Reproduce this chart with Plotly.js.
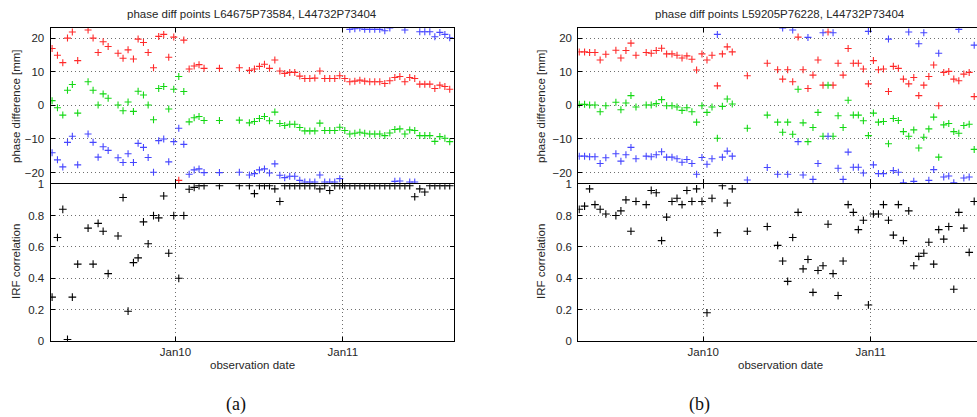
<!DOCTYPE html>
<html>
<head>
<meta charset="utf-8">
<script src="https://cdn.plot.ly/plotly-3.0.1.min.js"></script>
<style>
  html, body { margin: 0; padding: 0; overflow: hidden; background: #fff; }
  #chart { width: 990px; height: 417px; }
</style>
</head>
<body>
<div id="chart"></div>
<script>
// Observation times as decimal day of January
const tickDays = [10, 11];
const tickText = ['Jan10', 'Jan11'];
const phaseTicks = [-20, -10, 0, 10, 20];

// ---- point pair L64675P73584, L44732P73404 ----
const dayA = [9.263, 9.295, 9.327, 9.355, 9.384, 9.416, 9.478, 9.508, 9.538, 9.568, 9.598,
  9.657, 9.687, 9.717, 9.749, 9.777, 9.809, 9.837, 9.869, 9.900, 9.930, 9.960, 9.990,
  10.020, 10.050, 10.082, 10.112, 10.141, 10.171, 10.263, 10.382, 10.442, 10.472, 10.502,
  10.532, 10.562, 10.594, 10.624, 10.653, 10.683, 10.713, 10.743, 10.773, 10.803, 10.833,
  10.863, 10.892, 10.922, 10.952, 10.982, 11.012, 11.042, 11.072, 11.102, 11.131, 11.161,
  11.191, 11.221, 11.251, 11.281, 11.311, 11.341, 11.371, 11.400, 11.430, 11.460, 11.490,
  11.520, 11.550, 11.580, 11.610, 11.639];
const redA = [16.9, 14.9, 12.7, 20.0, 21.8, 13.3, 22.4, 20.0, 15.7, 18.9, 17.5,
  15.5, 14.0, 16.5, 13.8, 19.7, 18.7, 15.7, 11.2, 20.5, 21.1, 14.3, 20.3,
  -22.3, 19.4, 10.8, 11.7, 12.1, 11.0, 11.0, 11.2, 10.4, 10.8, 11.6,
  12.2, 11.0, 13.5, 10.2, 9.5, 9.8, 9.8, 8.7, 8.0, 8.0, 8.1,
  10.2, 8.0, 8.0, 8.0, 8.8, 8.0, 7.0, 7.2, 7.5, 7.2, 7.0,
  7.0, 7.0, 6.5, 7.3, 8.3, 8.6, 7.0, 8.3, 8.0, 6.3, 6.3,
  6.3, 5.0, 6.0, 5.6, 4.8];
const greenA = [1.4, -0.7, -2.9, 4.5, 6.2, -2.3, 7.0, 4.5, 0.1, 3.4, 2.1,
  0.1, -1.6, 1.0, -1.8, 4.2, 3.1, 0.1, -4.3, 5.0, 5.6, -1.1, 4.8,
  8.6, 4.1, -4.9, -3.7, -3.3, -4.5, -4.5, -4.4, -5.2, -4.8, -3.9,
  -3.3, -4.6, -2.0, -5.4, -6.0, -5.6, -5.6, -6.6, -7.6, -7.6, -7.6,
  -5.3, -7.5, -7.5, -7.5, -6.5, -7.5, -8.5, -8.3, -8.0, -8.3, -8.5,
  -8.5, -8.5, -9.0, -8.2, -7.2, -7.0, -8.5, -7.3, -7.5, -9.0, -9.0,
  -9.0, -10.7, -9.3, -9.8, -10.8];
const blueA = [-14.1, -16.2, -18.3, -11.0, -9.2, -17.7, -8.5, -11.0, -15.4, -12.3, -13.4,
  -15.6, -17.0, -14.4, -17.0, -11.3, -12.5, -15.5, -19.9, -10.5, -10.0, -16.8, -10.8,
  -6.8, -11.6, -20.5, -19.2, -18.9, -20.0, -20.0, -19.9, -20.7, -20.3, -19.2,
  -18.9, -20.1, -17.4, -20.8, -21.5, -21.1, -21.1, -22.3, -22.8, -22.8, -22.8,
  -20.7, -22.8, -22.8, -22.8, -21.8, null, 22.6, 22.8, 23.0, 22.6, 22.6,
  22.6, 22.6, 22.2, 23.0, -22.6, -22.5, 22.4, -22.8, -22.8, 21.9, 21.9,
  21.9, 20.4, 21.7, 21.1, 20.1];
const corrA = [0.28, 0.66, 0.84, 0.01, 0.28, 0.49, 0.72, 0.49, 0.75, 0.70, 0.43,
  0.67, 0.915, 0.19, 0.50, 0.53, 0.76, 0.62, 0.80, 0.785, 0.925, 0.56, 0.80,
  0.40, 0.80, 0.968, 0.98, 0.99, 0.99, 0.99, 0.99, 0.99, 0.94, 0.99,
  0.99, 0.99, 0.97, 0.89, 0.99, 0.99, 0.99, 0.99, 0.99, 0.99, 0.99,
  0.97, 0.99, 0.96, 0.99, 0.99, 0.99, 0.99, 0.99, 0.99, 0.99, 0.99,
  0.99, 0.99, 0.99, 0.99, 0.99, 0.99, 0.99, 0.99, 0.92, 0.97, 0.95,
  0.99, 0.99, 0.99, 0.99, 0.99];

// ---- point pair L59205P76228, L44732P73404 ----
const dayB = [9.259, 9.291, 9.321, 9.353, 9.384, 9.418, 9.478, 9.508, 9.538, 9.568, 9.598,
  9.659, 9.689, 9.719, 9.751, 9.781, 9.813, 9.843, 9.873, 9.902, 9.932, 9.960, 9.992,
  10.022, 10.052, 10.084, 10.114, 10.143, 10.173, 10.263, 10.382, 10.444, 10.474, 10.504,
  10.534, 10.566, 10.596, 10.625, 10.655, 10.685, 10.715, 10.745, 10.775, 10.805, 10.835,
  10.865, 10.896, 10.926, 10.956, 10.986, 11.016, 11.046, 11.076, 11.106, 11.135, 11.165,
  11.195, 11.227, 11.257, 11.287, 11.317, 11.347, 11.376, 11.406, 11.436, 11.466, 11.496,
  11.526, 11.556, 11.588, 11.618];
const redB = [15.9, 15.9, 15.7, 15.7, 13.5, 15.2, 16.4, 14.1, 16.3, 18.5, 14.9,
  15.7, 15.5, 16.3, 17.0, 15.3, 15.3, 14.9, 14.1, 14.7, 13.7, 10.5, 15.3,
  13.5, 14.9, 5.8, 15.3, 17.4, 15.9, 8.8, 12.5, 10.6, 7.8, 10.6,
  7.0, 20.3, 10.6, 5.0, 9.0, 13.5, 6.0, 21.8, 6.0, 12.5, 9.0,
  16.9, 12.5, 12.5, 10.8, 6.4, 13.3, 10.6, 10.8, 4.1, 11.6, 11.0,
  7.8, 6.4, 8.3, 2.9, 6.0, 8.6, 12.0, -0.1, 9.8, 10.1, 7.8,
  7.3, 9.3, 9.8, 2.6];
const greenB = [0.3, 0.3, 0.1, 0.1, -1.9, -0.1, 0.9, -1.3, 0.7, 2.9, -0.5,
  0.1, 0.1, 0.5, 1.7, -0.1, -0.1, -0.5, -1.5, -0.7, -1.9, -5.0, -0.1,
  -2.1, -0.5, -9.8, -0.3, 1.9, 0.4, -6.8, -2.9, -5.0, -8.0, -5.0,
  -8.6, 4.8, -5.2, -10.8, -6.6, -2.1, -9.2, 6.0, -9.2, -3.1, -6.6,
  1.5, -2.9, -2.9, -4.6, -9.0, -2.3, -5.0, -4.8, -11.4, -3.9, -4.5,
  -7.8, -9.2, -7.3, -12.7, -9.5, -7.0, -3.5, -15.4, -5.8, -5.4, -7.8,
  -8.3, -6.0, -5.6, -13.1];
const blueB = [-15.1, -15.1, -15.3, -15.3, -17.3, -15.6, -14.4, -16.6, -14.7, -12.5, -15.9,
  -15.1, -15.3, -14.7, -13.8, -15.4, -15.4, -15.9, -16.9, -16.1, -17.3, -20.5, -15.5,
  -17.5, -15.9, 21.1, -15.4, -13.6, -15.1, -22.2, -18.5, -20.5, 23.0, -20.5,
  22.4, -10.8, -20.7, 20.2, -22.0, -17.3, 21.6, -9.2, 21.6, -18.7, -22.0,
  -13.9, -18.4, -18.4, -20.1, 22.0, -17.7, -20.3, -20.3, 19.7, -19.4, -19.9,
  -23.0, 21.8, -22.6, 18.3, 21.6, -22.3, -19.1, 15.5, -21.3, -21.0, -23.0,
  22.6, -21.6, -21.3, 17.9];
const corrB = [0.84, 0.86, 0.97, 0.87, 0.84, 0.81, 0.80, 0.83, 0.90, 0.70, 0.89,
  0.87, 0.96, 0.945, 0.64, 0.79, 0.89, 0.91, 0.87, 0.96, 0.89, 0.97, 0.89,
  0.18, 0.91, 0.69, 0.99, 0.88, 0.97, 0.70, 0.73, 0.61, 0.51, 0.38,
  0.66, 0.82, 0.46, 0.52, 0.31, 0.45, 0.48, 0.745, 0.43, 0.29, 0.51,
  0.87, 0.82, 0.71, 0.77, 0.23, 0.81, 0.81, 0.87, 0.77, 0.675, 0.87,
  0.64, 0.83, 0.48, 0.54, 0.56, 0.63, 0.49, 0.71, 0.65, 0.73, 0.33,
  0.82, 0.72, 0.565, 0.89];

const titleA = 'phase diff points L64675P73584, L44732P73404';
const titleB = 'phase diff points L59205P76228, L44732P73404';

// ---- layout helpers (figure is laid out in pixels) ----
const W = 990, H = 417;
const fx = p => p / W;
const fy = p => 1 - p / H;

const FONT = 'Liberation Sans, Arial, Helvetica, sans-serif';
const TXT = '#262626';
const COLORS = { red: '#ff2a2a', green: '#14d814', blue: '#4646ff', black: '#000000' };

function crosses(x, y, color, xa, ya, size) {
  return {
    type: 'scatter', mode: 'markers', x: x, y: y, xaxis: xa, yaxis: ya,
    marker: { symbol: 'cross-thin', size: size, line: { color: color, width: 1.1 } },
    hoverinfo: 'skip', showlegend: false
  };
}

const traces = [
  crosses(dayA, redA, COLORS.red, 'x', 'y', 5),
  crosses(dayA, greenA, COLORS.green, 'x', 'y', 5),
  crosses(dayA, blueA, COLORS.blue, 'x', 'y', 5),
  crosses(dayA, corrA, COLORS.black, 'x2', 'y2', 5.5),
  crosses(dayB, redB, COLORS.red, 'x3', 'y3', 5),
  crosses(dayB, greenB, COLORS.green, 'x3', 'y3', 5),
  crosses(dayB, blueB, COLORS.blue, 'x3', 'y3', 5),
  crosses(dayB, corrB, COLORS.black, 'x4', 'y4', 5.5)
];

const xRange = [9.2535, 11.6645];
const gridStyle = { showgrid: true, gridcolor: '#6e6e6e', griddash: '1px,3px', gridwidth: 1 };
const lineStyle = { showline: true, linecolor: '#000', linewidth: 1, mirror: 'ticks',
  ticks: 'inside', ticklen: 4, tickwidth: 1, tickcolor: '#000', zeroline: false,
  tickfont: { family: FONT, size: 11.5, color: TXT } };

function xAxis(left, right, anchor, labels) {
  return Object.assign({}, lineStyle, gridStyle, {
    domain: [fx(left), fx(right)], anchor: anchor, range: xRange,
    tickmode: 'array', tickvals: tickDays, ticktext: tickText, showticklabels: labels
  });
}
function yPhase(anchor) {
  return Object.assign({}, lineStyle, gridStyle, {
    domain: [fy(183.2), fy(27.5)], anchor: anchor, range: [-23.15, 23.15],
    tickmode: 'array', tickvals: phaseTicks, ticklabelstandoff: 3
  });
}
function yCorr(anchor) {
  return Object.assign({}, lineStyle, gridStyle, {
    domain: [fy(341), fy(184.2)], anchor: anchor, range: [0, 1],
    tickmode: 'linear', tick0: 0, dtick: 0.2, ticklabelstandoff: 3
  });
}

function label(text, xp, yp, opts) {
  return Object.assign({
    text: text, xref: 'paper', yref: 'paper', x: fx(xp), y: fy(yp),
    xanchor: 'center', yanchor: 'middle', showarrow: false,
    font: { family: FONT, size: 11.5, color: TXT }
  }, opts || {});
}

const layout = {
  width: W, height: H,
  margin: { l: 0, r: 0, t: 0, b: 0 },
  paper_bgcolor: '#fff', plot_bgcolor: '#fff',
  showlegend: false,
  xaxis: xAxis(50.5, 454, 'y', false),
  yaxis: yPhase('x'),
  xaxis2: xAxis(50.5, 454, 'y2', true),
  yaxis2: yCorr('x2'),
  xaxis3: xAxis(578.3, 982, 'y3', false),
  yaxis3: yPhase('x3'),
  xaxis4: xAxis(578.3, 982, 'y4', true),
  yaxis4: yCorr('x4'),
  annotations: [
    label(titleA, 252.3, 14),
    label(titleB, 780, 14),
    label('phase difference [mm]', 16, 106, { textangle: -90 }),
    label('IRF correlation', 16, 262, { textangle: -90 }),
    label('phase difference [mm]', 541, 106, { textangle: -90 }),
    label('IRF correlation', 541, 262, { textangle: -90 }),
    label('observation date', 252.3, 364.5),
    label('observation date', 780, 364.5),
    label('(a)', 236, 404, { font: { family: 'Liberation Serif, DejaVu Serif, serif', size: 18, color: '#111' } }),
    label('(b)', 699, 404, { font: { family: 'Liberation Serif, DejaVu Serif, serif', size: 18, color: '#111' } })
  ]
};

Plotly.newPlot('chart', traces, layout, { staticPlot: true, displayModeBar: false });
</script>
</body>
</html>
